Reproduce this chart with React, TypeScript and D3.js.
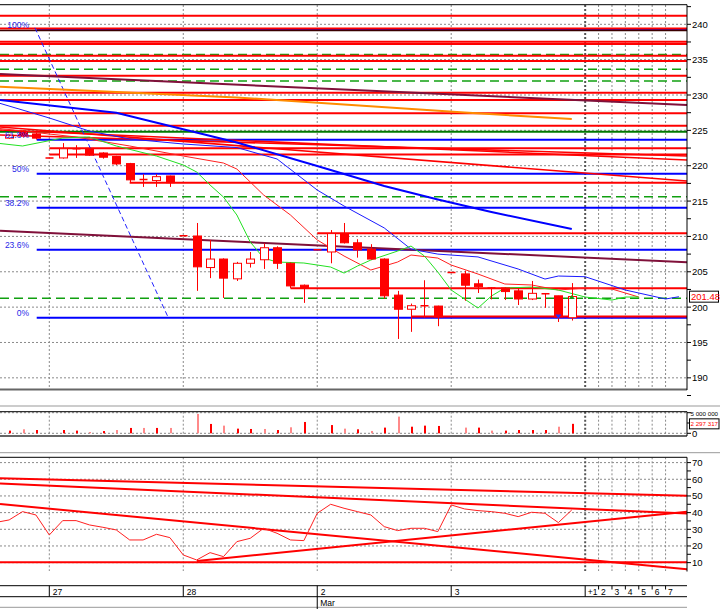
import * as d3 from "d3";

// bar slots: slot 0 = start of the 27th, ten slots per day
const dayTickIdx = [0, 10, 20, 30];
const dayTickLabels = ["27", "28", "2", "3"];
const futureIdx = [40, 41, 42, 43, 44, 45, 46];
const futureLabels = ["+1", "2", "3", "4", "5", "6", "7"];

// candles
const candleIdx = [-3, -2, -1, 0, 1, 2, 3, 4, 5, 6, 7, 8, 9, 10, 11, 12, 13, 14, 15, 16, 17, 18, 19, 20, 21, 22, 23, 24, 25, 26, 27, 28, 29, 30, 31, 32, 33, 34, 35, 36, 37, 38, 39];
const opens = [223.9, 224.8, 224.5, 221.1, 221.1, 222.3, 222.45, 221.8, 221.3, 220.3, 218.0, 217.9, 218.55, 210.1, 210.06, 205.6, 206.8, 204.0, 206.2, 206.7, 208.4, 206.2, 203.1, 208.1, 207.8, 210.4, 209.1, 208.2, 206.8, 201.7, 199.7, 200.2, 200.15, 204.9, 204.7, 203.3, 202.7, 202.7, 202.3, 201.15, 201.9, 201.6, 198.5];
const highs = [224.4, 225.0, 224.7, 221.1, 223.2, 222.9, 222.5, 221.9, 221.4, 220.4, 218.8, 218.8, 218.6, 210.1, 211.9, 209.5, 206.9, 206.4, 207.8, 209.0, 208.6, 206.3, 203.2, 208.1, 210.9, 211.9, 209.6, 208.9, 206.9, 202.3, 200.5, 203.8, 200.2, 204.9, 205.15, 203.9, 202.8, 202.8, 202.7, 203.7, 202.0, 201.6, 203.4];
const lows = [223.8, 224.0, 223.7, 221.1, 221.0, 221.1, 221.4, 221.0, 220.1, 217.6, 217.0, 217.0, 217.0, 210.1, 202.3, 204.1, 201.3, 203.7, 205.6, 205.4, 205.4, 202.7, 200.6, 208.1, 206.2, 209.0, 207.0, 206.7, 201.2, 195.5, 196.5, 198.5, 197.3, 204.9, 200.9, 202.0, 201.1, 201.0, 200.3, 201.0, 199.9, 197.9, 198.1];
const closes = [224.3, 224.2, 223.9, 221.1, 222.4, 222.4, 221.5, 221.2, 220.25, 218.0, 218.05, 218.45, 217.6, 210.1, 205.7, 206.8, 204.1, 206.2, 206.8, 208.4, 206.2, 203.0, 202.7, 208.1, 210.4, 209.1, 208.1, 206.8, 201.6, 199.7, 200.2, 200.2, 198.6, 204.9, 203.1, 202.9, 202.7, 202.2, 201.15, 201.95, 201.7, 198.6, 201.5];
const lastPrice = 201.48;

// moving averages (slot, value)
const orangeIdx = [-4, 5, 14, 22, 31, 39];
const orangeVal = [231.2, 230.42, 229.65, 228.66, 227.53, 226.6];
const blueThickIdx = [-4, 5, 14, 20, 25, 29, 33, 39];
const blueThickVal = [229.36, 227.5, 223.28, 219.96, 217.13, 215.22, 213.45, 211.05];
const blueThinIdx = [-4, 0, 3, 6, 10, 14, 17, 20, 22, 25, 27, 29, 32, 35, 37, 38, 40, 43, 46, 47];
const blueThinVal = [229.0, 226.75, 224.9, 223.78, 223.07, 222.57, 220.95, 216.56, 214.3, 211.2, 208.2, 207.5, 207.1, 205.39, 203.97, 204.4, 204.3, 202.42, 201.15, 201.47];
const redMaIdx = [-4, 2, 6, 10, 13, 14, 16, 18, 20, 22, 24, 26, 27, 29, 30, 32, 34, 36, 38, 40, 42, 44];
const redMaVal = [225.33, 224.06, 222.79, 221.37, 220.38, 219.53, 215.86, 213.03, 209.5, 207.23, 205.25, 206.38, 207.37, 206.94, 205.95, 204.68, 203.27, 203.13, 202.42, 202.7, 202.56, 201.43];
const greenMaIdx = [-4, -2, 1, 3, 5, 8, 10, 11, 12, 13, 14, 15, 16, 17, 19, 21, 22, 23, 24, 26, 27, 28, 29, 30, 32, 33, 34, 36, 38, 40, 42, 43, 44];
const greenMaVal = [223.21, 222.79, 223.92, 224.06, 222.79, 221.37, 220.1, 219.11, 217.27, 215.57, 213.03, 209.21, 206.94, 206.38, 206.24, 205.67, 204.82, 205.81, 206.66, 207.93, 208.64, 207.23, 204.96, 202.42, 199.87, 201.57, 202.7, 202.84, 202.42, 201.43, 201.0, 201.43, 201.43];

// horizontal levels
const redLevels = [241.22, 239.4, 237.54, 237.21, 235.56, 234.81, 232.73, 230.33, 229.29, 227.41, 225.66];
const greenDashLevels = [235.73, 233.64, 231.98, 215.62, 201.25];
const greenSolidLevels = [224.81];
const rayFrom = [0, 0, 6, 18, 20, 27];
const rayLevels = [222.46, 221.58, 217.6, 202.66, 210.44, 198.67];

// fibonacci retracement
const fibLow = 198.5;
const fibHigh = 239.24;
const fibRatios = [0, 0.236, 0.382, 0.5, 0.618, 1];
const fibLabels = ["0%", "23.6%", "38.2%", "50%", "61.8%", "100%"];
const fibStart = -0.94;
const fibDiag = [-1.07, 239.5, 8.86, 198.6];

// trend lines [slot0, value0, slot1, value1]
const maroonLines = [[-3.68, 232.96, 47.6, 228.59], [-3.68, 210.81, 47.6, 206.34]];
const redSlopes = [[-3.68, 225.47, 47.6, 217.84], [-3.68, 225.05, 47.6, 220.81], [-3.68, 224.34, 47.6, 221.37]];

// volume (millions)
const volIdx = [-3, -2, -1, 1, 2, 3, 4, 5, 6, 7, 8, 9, 11, 12, 13, 14, 15, 16, 17, 18, 19, 21, 22, 23, 24, 25, 26, 27, 28, 29, 31, 32, 33, 34, 35, 36, 37, 38, 39];
const volVal = [0.65, 0.97, 0.8, 0.8, 0.65, 0.32, 0.55, 0.8, 1.3, 1.3, 1.3, 1.3, 4.7, 2.27, 1.86, 1.13, 1.05, 1.05, 0.8, 1.46, 2.75, 2.0, 1.13, 0.97, 0.57, 1.38, 4.05, 1.6, 1.86, 1.78, 1.38, 1.38, 0.65, 0.65, 0.8, 0.8, 0.8, 1.6, 2.297];
const volPink = [0, 1, 0, 0, 0, 1, 0, 1, 0, 1, 0, 1, 1, 0, 1, 0, 0, 1, 0, 1, 0, 0, 1, 0, 1, 0, 1, 0, 0, 0, 1, 0, 1, 0, 0, 0, 0, 1, 0];

// RSI
const rsiIdx = d3.range(-4, 40);
const rsiVal = [34.1, 35.6, 40.6, 38.6, 26.6, 35.2, 35.2, 32.6, 31.2, 29.6, 23.6, 23.6, 27, 25, 14.6, 11.6, 16, 13.6, 22.6, 24.6, 30.6, 27.6, 23.6, 23.2, 39.6, 45, 42.6, 40.6, 38.6, 31.6, 29.2, 30.6, 30.6, 28.6, 44.6, 42.2, 41.2, 40.6, 39.6, 37.6, 40.2, 39.6, 34, 41.6];
const rsiLines = [[-3.68, 60.6, 47.6, 50.15], [-3.68, 57.47, 47.6, 39.47], [-3.68, 45.17, 47.6, 6.0], [11.02, 10.98, 47.6, 40.55], [-3.68, 10.2, 47.6, 10.2]];
const rsiTicks = [10, 20, 30, 40, 50, 60, 70];

const PR = 687; // right edge of plot areas
const RED = "#ff0000";
const GRID = "#8a8a8a";

export default function App() {
  document.body.style.margin = "0";
  const x = d3.scaleLinear().domain([-3.68, 47.6]).range([0, PR]);
  const y = d3.scaleLinear().domain([188.35, 242.73]).range([389.5, 5]);
  const yv = d3.scaleLinear().domain([0, 5]).range([433.3, 412.7]);
  const yr = d3.scaleLinear().domain([0, 70]).range([579.3, 462.6]);

  const lineMain = d3.line<[number, number]>().x((d) => x(d[0])).y((d) => y(d[1]));
  const lineRsi = d3.line<[number, number]>().x((d) => x(d[0])).y((d) => yr(d[1]));
  const zip = (a: number[], b: number[]) => a.map((v, i) => [v, b[i]] as [number, number]);

  const vLines = [...dayTickIdx, ...futureIdx];
  const priceTicks = d3.range(190, 241, 5);
  const priceMinor = d3.range(187.5, 243, 2.5);

  const seg = (l: number[], sy: (v: number) => number, stroke: string, w: number, key: string) => (
    <line key={key} x1={x(l[0])} y1={sy(l[1])} x2={x(l[2])} y2={sy(l[3])} stroke={stroke} strokeWidth={w} />
  );

  return (
    <svg width={720} height={609} style={{ position: "absolute", left: 0, top: 0, background: "#fff", fontFamily: "'Liberation Sans', Arial, sans-serif" }}>
      <defs>
        <clipPath id="cm"><rect x={0} y={5} width={PR} height={384.5} /></clipPath>
        <clipPath id="cr"><rect x={0} y={457.5} width={PR} height={114} /></clipPath>
      </defs>

      {/* ---------- main price panel ---------- */}
      <g clipPath="url(#cm)">
        {priceTicks.map((t) => (
          <line key={"g" + t} x1={0} x2={PR} y1={y(t)} y2={y(t)} stroke={GRID} strokeDasharray="2,2" />
        ))}
        {vLines.map((t) => (
          <line key={"v" + t} x1={x(t)} x2={x(t)} y1={5} y2={389.5} stroke={t === 40 ? "#555" : GRID} strokeWidth={t === 40 ? 2 : 1} strokeDasharray="2,2" />
        ))}
        {greenDashLevels.map((v) => (
          <line key={"gd" + v} x1={0} x2={PR} y1={y(v)} y2={y(v)} stroke="#10a010" strokeWidth={1.5} strokeDasharray="9,5" />
        ))}
        {fibRatios.map((r) => {
          const v = fibLow + r * (fibHigh - fibLow);
          return <line key={"f" + r} x1={x(fibStart)} x2={PR} y1={y(v)} y2={y(v)} stroke="#0000ff" strokeWidth={2} />;
        })}
        {greenSolidLevels.map((v) => (
          <line key={"gs" + v} x1={0} x2={PR} y1={y(v)} y2={y(v)} stroke="#007a00" strokeWidth={2} />
        ))}
        {redLevels.map((v) => (
          <line key={"r" + v} x1={0} x2={PR} y1={y(v)} y2={y(v)} stroke={RED} strokeWidth={2} />
        ))}
        <line x1={0} x2={PR} y1={y(239.12)} y2={y(239.12)} stroke="#3a0000" strokeWidth={1.5} />
        {rayLevels.map((v, i) => (
          <line key={"ray" + i} x1={x(rayFrom[i])} x2={PR} y1={y(v)} y2={y(v)} stroke={RED} strokeWidth={2} />
        ))}
        {redSlopes.map((l, i) => seg(l, y, RED, 1.6, "rs" + i))}
        {maroonLines.map((l, i) => seg(l, y, "#80103a", 2, "ml" + i))}
        <line x1={x(fibDiag[0])} y1={y(fibDiag[1])} x2={x(fibDiag[2])} y2={y(fibDiag[3])} stroke="#2020ff" strokeDasharray="5,3" />

        <path d={lineMain(zip(orangeIdx, orangeVal)) || ""} fill="none" stroke="#ff8c00" strokeWidth={2} />
        <path d={lineMain(zip(blueThickIdx, blueThickVal)) || ""} fill="none" stroke="#0000ff" strokeWidth={2} />
        <path d={lineMain(zip(blueThinIdx, blueThinVal)) || ""} fill="none" stroke="#1a1aff" strokeWidth={1} />
        <path d={lineMain(zip(redMaIdx, redMaVal)) || ""} fill="none" stroke="#ff2020" strokeWidth={1} />
        <path d={lineMain(zip(greenMaIdx, greenMaVal)) || ""} fill="none" stroke="#22e022" strokeWidth={1} />

        {candleIdx.map((ci, i) => {
          const cx = Math.round(x(ci)) + 0.5;
          const o = opens[i], c = closes[i];
          const top = y(Math.max(o, c));
          const bot = y(Math.min(o, c));
          const up = c > o;
          return (
            <g key={"c" + ci}>
              <line x1={cx} x2={cx} y1={y(highs[i])} y2={y(lows[i])} stroke={RED} />
              {bot - top < 1.5 ? (
                <line x1={cx - 4} x2={cx + 4} y1={top} y2={top} stroke={RED} strokeWidth={1.5} />
              ) : (
                <rect x={cx - 4} y={top} width={8} height={bot - top} fill={up ? "#fff" : RED} stroke={RED} />
              )}
            </g>
          );
        })}
        <path d={`M${x(38) - 3},${y(198.95)} L${x(38) + 3},${y(198.95)} L${x(38)},${y(198.4)} Z`} fill="#2030ff" />
        <path d={`M${x(39) - 3},${y(201.15)} L${x(39) + 3},${y(201.15)} L${x(39)},${y(201.7)} Z`} fill="#10a010" />
      </g>
      {fibRatios.map((r, i) => {
        const v = fibLow + r * (fibHigh - fibLow);
        return (
          <text key={"fl" + r} x={29} y={y(v) - 1.5} textAnchor="end" fontSize={8.5} fill="#2828e8">{fibLabels[i]}</text>
        );
      })}

      {/* main frame + right axis */}
      <line x1={0} x2={PR} y1={4.7} y2={4.7} stroke="#000" />
      <line x1={0} x2={PR} y1={389.5} y2={389.5} stroke="#666" strokeWidth={2} />
      <line x1={PR} x2={PR} y1={4.7} y2={390} stroke="#000" />
      {priceMinor.map((t) => (
        <line key={"pt" + t} x1={PR} x2={PR + 4} y1={y(t)} y2={y(t)} stroke="#000" />
      ))}
      {priceTicks.map((t) => (
        <text key={"pl" + t} x={692} y={y(t) + 3.5} fontSize={9.5} fill="#000">{t}</text>
      ))}
      <rect x={689.5} y={y(lastPrice) - 5.5} width={29} height={11} fill="#fff" stroke="#000" />
      <text x={691} y={y(lastPrice) + 3.5} fontSize={9.5} fill={RED}>{lastPrice.toFixed(2)}</text>

      {/* ---------- volume panel ---------- */}
      <line x1={0} x2={720} y1={406} y2={406} stroke="#999" />
      <line x1={0} x2={PR} y1={yv(5)} y2={yv(5)} stroke={GRID} strokeDasharray="2,2" />
      <line x1={0} x2={PR} y1={yv(0)} y2={yv(0)} stroke={GRID} strokeDasharray="2,2" />
      {vLines.map((t) => (
        <line key={"vv" + t} x1={x(t)} x2={x(t)} y1={411.7} y2={436} stroke={t === 40 ? "#555" : GRID} strokeWidth={t === 40 ? 2 : 1} strokeDasharray="2,2" />
      ))}
      {volIdx.map((vi, i) => (
        <rect key={"vb" + vi} x={Math.round(x(vi))} y={yv(volVal[i])} width={2} height={yv(0) - yv(volVal[i])} fill={volPink[i] ? "#ff8a8a" : RED} />
      ))}
      <line x1={0} x2={PR} y1={411.7} y2={411.7} stroke="#000" />
      <line x1={0} x2={PR} y1={436} y2={436} stroke="#666" strokeWidth={2} />
      <line x1={PR} x2={PR} y1={411.7} y2={436} stroke="#000" />
      {[0, 2.5, 5].map((t) => (
        <line key={"vt" + t} x1={PR} x2={PR + 4} y1={yv(t)} y2={yv(t)} stroke="#000" />
      ))}
      <text x={690.5} y={yv(5) + 3} fontSize={6.2}>5 000 000</text>
      <rect x={689.5} y={yv(2.297) - 5} width={29.5} height={10} fill="#fff" stroke="#000" />
      <text x={690.5} y={yv(2.297) + 2.5} fontSize={6.2} fill={RED}>2 297 317</text>
      <text x={692} y={yv(0) + 3.5} fontSize={9.5}>0</text>

      {/* ---------- RSI panel ---------- */}
      <line x1={0} x2={720} y1={452.7} y2={452.7} stroke="#999" />
      <g clipPath="url(#cr)">
        {rsiTicks.map((t) => (
          <line key={"rg" + t} x1={0} x2={PR} y1={yr(t)} y2={yr(t)} stroke={GRID} strokeDasharray="2,2" />
        ))}
        {vLines.map((t) => (
          <line key={"rv" + t} x1={x(t)} x2={x(t)} y1={457.3} y2={571} stroke={t === 40 ? "#555" : GRID} strokeWidth={t === 40 ? 2 : 1} strokeDasharray="2,2" />
        ))}
        {rsiLines.map((l, i) => seg(l, yr, RED, 2, "rl" + i))}
        <path d={lineRsi(zip(rsiIdx, rsiVal)) || ""} fill="none" stroke="#ff2020" strokeWidth={1} />
      </g>
      <line x1={0} x2={PR} y1={457.3} y2={457.3} stroke="#000" />
      <line x1={PR} x2={PR} y1={457.3} y2={571.5} stroke="#000" />
      {d3.range(10, 75, 5).map((t) => (
        <line key={"rt" + t} x1={PR} x2={PR + 4} y1={yr(t)} y2={yr(t)} stroke="#000" />
      ))}
      {rsiTicks.map((t) => (
        <text key={"rtl" + t} x={692} y={yr(t) + 3.5} fontSize={9.5}>{t}</text>
      ))}

      {/* ---------- time axis ---------- */}
      <line x1={0} x2={PR} y1={585.7} y2={585.7} stroke="#000" />
      <line x1={0} x2={PR} y1={596.7} y2={596.7} stroke="#000" />
      <line x1={0} x2={PR} y1={607.3} y2={607.3} stroke="#999" />
      {dayTickIdx.map((t, i) => (
        <g key={"xt" + t}>
          <line x1={x(t)} x2={x(t)} y1={585.7} y2={t === 20 ? 609 : 596.7} stroke="#000" />
          <text x={x(t) + 3.5} y={595} fontSize={8.5}>{dayTickLabels[i]}</text>
        </g>
      ))}
      <text x={x(20) + 3} y={605.5} fontSize={8.5}>Mar</text>
      {futureIdx.map((t, i) => (
        <g key={"ft" + t}>
          <line x1={x(t)} x2={x(t)} y1={585.7} y2={i === 0 ? 596.7 : 589.5} stroke="#000" />
          <text x={x(t) + 2.5} y={595} fontSize={8.5}>{futureLabels[i]}</text>
        </g>
      ))}
    </svg>
  );
}
